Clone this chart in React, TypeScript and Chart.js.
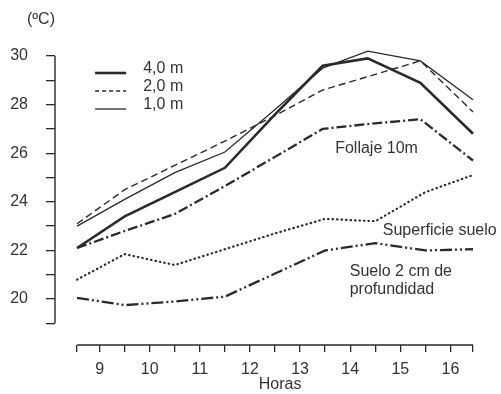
import React, { useEffect, useRef } from 'react';
import { Chart, registerables } from 'chart.js';

Chart.register(...registerables);

// Hours of the readings (air profile and soil series were logged a few minutes apart)
const HOURS_AIR = [8.55, 9.5, 10.5, 11.5, 12.5, 13.45, 14.35, 15.4, 16.45];
const HOURS_SOIL = [8.55, 9.5, 10.5, 11.5, 12.5, 13.5, 14.5, 15.5, 16.45];

// Temperatures (ºC)
const AIR_4M = [22.1, 23.4, 24.4, 25.4, 27.6, 29.6, 29.9, 28.9, 26.8];
const AIR_2M = [23.1, 24.5, 25.5, 26.5, 27.55, 28.6, 29.15, 29.8, 27.7];
const AIR_1M = [23.0, 24.1, 25.2, 26.05, 27.8, 29.5, 30.2, 29.8, 28.2];
const FOLIAGE_10M = [22.1, 22.8, 23.5, 24.65, 25.85, 27.0, 27.2, 27.4, 25.7];
const SOIL_SURFACE = [20.8, 21.85, 21.4, 22.05, 22.7, 23.3, 23.2, 24.4, 25.1];
const SOIL_2CM = [20.05, 19.75, 19.9, 20.1, 21.05, 22.0, 22.3, 22.0, 22.05];

// Axis ticks
const X_TICKS = [8.55, 9, 9.5, 10, 10.5, 11, 11.5, 12, 12.5, 13, 13.5, 14, 14.5, 15, 15.5, 16, 16.45];
const Y_TICKS = [19, 20, 21, 22, 23, 24, 25, 26, 27, 28, 29, 30];
const LEGEND_LABELS = ['4,0 m', '2,0 m', '1,0 m'];

const INK = '#2a2a2a';
const TEXT = '#333333';
const FONT_FAMILY = '"Liberation Sans", Arial, Helvetica, sans-serif';

const pts = (xs: number[], ys: number[]) => xs.map((x, i) => ({ x, y: ys[i] }));

const styles = {
  a4: { borderWidth: 2.6, borderDash: [] as number[] },
  a2: { borderWidth: 1.4, borderDash: [7, 4] },
  a1: { borderWidth: 1.3, borderDash: [] as number[] },
  fol: { borderWidth: 2.3, borderDash: [10, 3, 2, 3] },
  surf: { borderWidth: 2.2, borderDash: [0.5, 4] },
  s2: { borderWidth: 2.3, borderDash: [12, 3, 2, 3, 2, 3] },
};

const annotations = {
  id: 'annotations',
  afterDraw(chart: any) {
    const { ctx, chartArea, scales } = chart;
    const xs = scales.x;
    const ys = scales.y;
    const px = (v: number) => xs.getPixelForValue(v);
    const py = (v: number) => ys.getPixelForValue(v);
    ctx.save();

    // axis lines
    ctx.strokeStyle = INK;
    ctx.lineWidth = 1.4;
    ctx.setLineDash([]);
    ctx.beginPath();
    ctx.moveTo(chartArea.left, py(Y_TICKS[Y_TICKS.length - 1]));
    ctx.lineTo(chartArea.left, py(Y_TICKS[0]));
    ctx.moveTo(px(X_TICKS[0]), chartArea.bottom);
    ctx.lineTo(px(X_TICKS[X_TICKS.length - 1]), chartArea.bottom);
    ctx.stroke();

    ctx.fillStyle = TEXT;
    ctx.font = `16px ${FONT_FAMILY}`;

    // legend for the three air heights
    const legendStyles = [styles.a4, styles.a2, styles.a1];
    LEGEND_LABELS.forEach((label, i) => {
      const yy = py(29.3 - i * 0.74);
      const st = legendStyles[i];
      ctx.lineWidth = st.borderWidth;
      ctx.setLineDash(st.borderDash.length ? [4, 3] : []);
      ctx.strokeStyle = INK;
      ctx.beginPath();
      ctx.moveTo(px(8.91), yy);
      ctx.lineTo(px(9.53), yy);
      ctx.stroke();
      ctx.textAlign = 'left';
      ctx.textBaseline = 'alphabetic';
      ctx.fillText(label, px(9.87), yy);
    });
    ctx.setLineDash([]);

    ctx.textBaseline = 'middle';
    ctx.textAlign = 'left';
    ctx.fillText('Follaje 10m', px(13.7), py(26.21));
    ctx.fillText('Superficie suelo', px(14.65), py(22.8));
    ctx.fillText('Suelo 2 cm de', px(13.99), py(21.11));
    ctx.fillText('profundidad', px(13.99), py(20.37));

    ctx.textAlign = 'center';
    ctx.fillText('Horas', px(12.6), chartArea.bottom + 40);

    ctx.textAlign = 'right';
    ctx.fillText('(ºC)', chartArea.left, chartArea.top - 36);

    ctx.restore();
  },
};

export default function App() {
  const ref = useRef<HTMLCanvasElement | null>(null);

  useEffect(() => {
    document.body.style.margin = '0';
    const canvas = ref.current;
    if (!canvas) return;

    const line = (data: { x: number; y: number }[], st: { borderWidth: number; borderDash: number[] }, cap = 'butt') => ({
      data,
      borderColor: INK,
      backgroundColor: INK,
      borderWidth: st.borderWidth,
      borderDash: st.borderDash,
      borderCapStyle: cap,
      borderJoinStyle: 'miter',
      pointRadius: 0,
      tension: 0,
      fill: false,
      clip: false,
    });

    const chart = new Chart(canvas, {
      type: 'line',
      data: {
        datasets: [
          { label: '4,0 m', ...line(pts(HOURS_AIR, AIR_4M), styles.a4) },
          { label: '2,0 m', ...line(pts(HOURS_AIR, AIR_2M), styles.a2) },
          { label: '1,0 m', ...line(pts(HOURS_AIR, AIR_1M), styles.a1) },
          { label: 'Follaje 10m', ...line(pts(HOURS_AIR, FOLIAGE_10M), styles.fol) },
          { label: 'Superficie suelo', ...line(pts(HOURS_SOIL, SOIL_SURFACE), styles.surf, 'round') },
          { label: 'Suelo 2 cm de profundidad', ...line(pts(HOURS_SOIL, SOIL_2CM), styles.s2) },
        ] as any,
      },
      options: {
        responsive: false,
        animation: false,
        events: [],
        layout: { padding: { top: 56, right: 28, bottom: 0, left: 0 } },
        plugins: { legend: { display: false }, tooltip: { enabled: false } },
        scales: {
          x: {
            type: 'linear',
            min: 8.11,
            max: 16.45,
            afterFit: (s: any) => { s.height = 49; },
            afterBuildTicks: (s: any) => { s.ticks = X_TICKS.map((v) => ({ value: v })); },
            border: { display: false },
            grid: {
              display: true,
              drawOnChartArea: false,
              drawTicks: true,
              tickLength: 7,
              color: INK,
              lineWidth: 1.3,
            },
            ticks: {
              autoSkip: false,
              maxRotation: 0,
              padding: 8,
              color: TEXT,
              font: { family: FONT_FAMILY, size: 16 },
              callback: (v: any) => (Number.isInteger(Number(v)) ? String(v) : ''),
            },
          },
          y: {
            type: 'linear',
            min: 18.11,
            max: 30,
            afterFit: (s: any) => { s.width = 55; },
            afterBuildTicks: (s: any) => { s.ticks = Y_TICKS.map((v) => ({ value: v })); },
            border: { display: false },
            grid: {
              display: true,
              drawOnChartArea: false,
              drawTicks: true,
              tickLength: 9,
              color: INK,
              lineWidth: 1.3,
            },
            ticks: {
              autoSkip: false,
              padding: 18,
              color: TEXT,
              font: { family: FONT_FAMILY, size: 16 },
              callback: (v: any) => (Number(v) % 2 === 0 ? String(v) : ''),
            },
          },
        },
      } as any,
      plugins: [annotations],
    });

    return () => chart.destroy();
  }, []);

  return (
    <div style={{ width: 501, height: 394, background: '#ffffff' }}>
      <canvas ref={ref} width={501} height={394} style={{ display: 'block' }} />
    </div>
  );
}
